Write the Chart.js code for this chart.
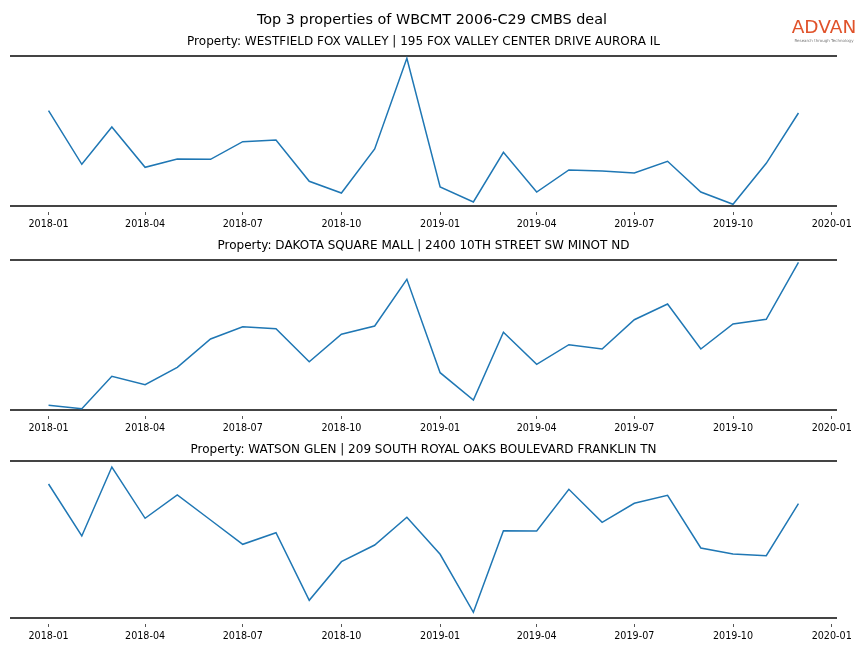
<!DOCTYPE html>
<html>
<head>
<meta charset="utf-8">
<script src="https://cdn.jsdelivr.net/npm/chart.js@4.4.1/dist/chart.umd.min.js"></script>
<style>
  body { margin: 0; background: #fff; }
  #wrap { position: relative; width: 864px; height: 648px; overflow: hidden; }
  .panel { position: absolute; left: 0; width: 864px; }
  #suptitle { position: absolute; left: 0; top: 10px; width: 864px; text-align: center; font-family: "DejaVu Sans", sans-serif; font-size: 14.4px; line-height: 18px; color: #000; }
  #logo { position: absolute; left: 789px; top: 16px; width: 70px; text-align: center; font-family: "DejaVu Sans", sans-serif; }
  #logo .brand { color: #e0522a; font-size: 18.5px; line-height: 22px; }
  #logo .tag { color: #777; font-size: 4px; line-height: 5px; }
</style>
</head>
<body>
<div id="wrap">
  <div class="panel" style="top:0;height:236px"><canvas id="p1"></canvas></div>
  <div class="panel" style="top:236px;height:204px"><canvas id="p2"></canvas></div>
  <div class="panel" style="top:440px;height:208px"><canvas id="p3"></canvas></div>
  <div id="suptitle"></div>
  <div id="logo"><div class="brand">ADVAN</div><div class="tag">Research through Technology</div></div>
</div>
<script>
// monthly observations, 2018-01 .. 2019-12
const months = ["2018-01","2018-02","2018-03","2018-04","2018-05","2018-06","2018-07","2018-08","2018-09","2018-10","2018-11","2018-12",
                "2019-01","2019-02","2019-03","2019-04","2019-05","2019-06","2019-07","2019-08","2019-09","2019-10","2019-11","2019-12"];
const tickLabels = ["2018-01","2018-04","2018-07","2018-10","2019-01","2019-04","2019-07","2019-10","2020-01"];

const foxValley = [95.3, 41.7, 79, 38.7, 47, 46.7, 64.3, 66, 24.7, 13, 57, 147.7,
                   19, 4, 53.7, 14, 36, 35, 33, 44.7, 14, 1.7, 42.7, 93];
const dakotaSquare = [4.7, 1.3, 33.7, 25.3, 42.7, 71, 83.3, 81.3, 48.3, 75.7, 84, 130.7,
                      37.3, 10, 77.7, 45.7, 65.3, 61, 90.3, 106, 61, 86, 90.7, 147.7];
const watsonGlen = [134, 82, 151, 99.7, 123, 98, 73.7, 85.3, 17.7, 56.3, 73, 100.7,
                    63.7, 5.7, 87.3, 87, 128.7, 95.7, 114.7, 122.7, 70, 64, 62.3, 114.3];

const mainTitle = "Top 3 properties of WBCMT 2006-C29 CMBS deal";
const subtitles = [
  "Property: WESTFIELD FOX VALLEY | 195 FOX VALLEY CENTER DRIVE AURORA IL",
  "Property: DAKOTA SQUARE MALL | 2400 10TH STREET SW MINOT ND",
  "Property: WATSON GLEN | 209 SOUTH ROYAL OAKS BOULEVARD FRANKLIN TN"
];

document.getElementById("suptitle").textContent = mainTitle;

const base = Date.UTC(2018, 0, 1);
const toDay = (m) => (Date.parse(m + "-01T00:00:00Z") - base) / 864e5;
const tickDays = tickLabels.map(toDay);
const FONT = "'DejaVu Sans', sans-serif";
const SPINE = "#444";

function makeChart(id, values, yMax, text, padTop, padBottom) {
  return new Chart(document.getElementById(id), {
    type: "line",
    data: {
      datasets: [{
        data: months.map((m, i) => ({ x: toDay(m), y: values[i] })),
        borderColor: "#1f77b4",
        borderWidth: 1.5,
        pointRadius: 0,
        tension: 0,
        fill: false
      }]
    },
    options: {
      responsive: true,
      maintainAspectRatio: false,
      animation: false,
      layout: { padding: { left: 11, right: 28, top: 0, bottom: 0 } },
      scales: {
        x: {
          type: "linear",
          position: "bottom",
          min: -35,
          max: 734,
          afterBuildTicks: (s) => { s.ticks = tickDays.map((v) => ({ value: v })); },
          afterFit: (s) => { s.height = 30; },
          ticks: {
            autoSkip: false,
            maxRotation: 0,
            padding: 4,
            color: "#000",
            font: { family: FONT, size: 9.6 },
            callback: (v, i) => tickLabels[i]
          },
          grid: {
            drawOnChartArea: false,
            tickLength: 9,
            tickColor: "#555",
            tickWidth: 1,
            tickBorderDash: [0, 5, 4, 20]
          },
          border: { display: true, color: SPINE, width: 2 }
        },
        xTop: {
          type: "linear",
          position: "top",
          min: -35,
          max: 734,
          afterFit: (s) => { s.height = 0; },
          ticks: { display: false },
          grid: { drawOnChartArea: false, drawTicks: false },
          border: { display: true, color: SPINE, width: 2 }
        },
        y: { display: false, min: 0, max: yMax }
      },
      plugins: {
        legend: { display: false },
        tooltip: { enabled: false },
        title: {
          display: true, text: text, color: "#000",
          font: { family: FONT, size: 12, weight: "normal", lineHeight: "16px" },
          padding: { top: padTop, bottom: padBottom }
        }
      }
    }
  });
}

makeChart("p1", foxValley, 150, subtitles[0], 34, 6);
makeChart("p2", dakotaSquare, 150, subtitles[1], 2, 6);
makeChart("p3", watsonGlen, 157, subtitles[2], 2, 3);
</script>
</body>
</html>
